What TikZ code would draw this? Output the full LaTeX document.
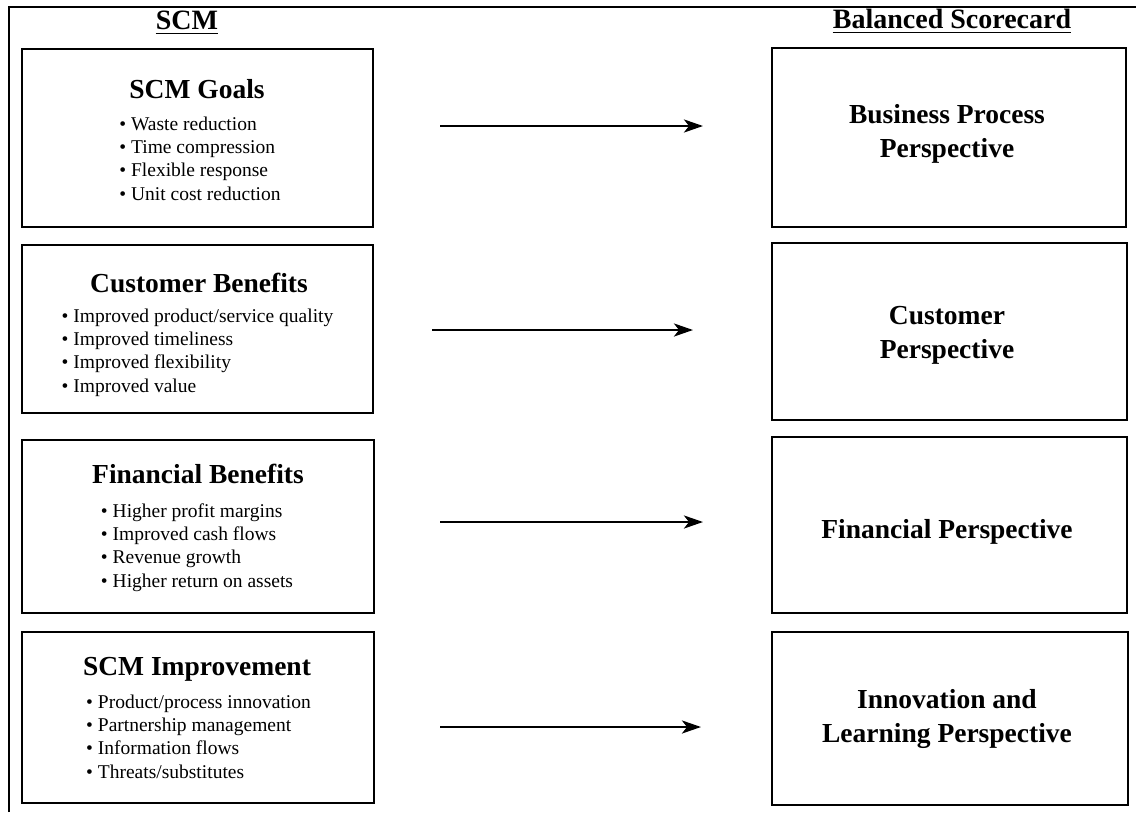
\documentclass[tikz,border=0pt]{standalone}
\usepackage{fontspec}
\setmainfont{Liberation Serif}
\usetikzlibrary{arrows.meta}
\begin{document}
\begin{tikzpicture}[x=1pt,y=-1pt,
  frame/.style={line width=2.2pt},
  box/.style={draw, line width=2.2pt, inner sep=0pt},
  hd/.style={font=\fontsize{28}{30}\selectfont\bfseries, anchor=base, inner sep=0pt},
  ttl/.style={font=\fontsize{27.5}{33}\selectfont\bfseries, anchor=base, inner sep=0pt},
  % multi-line nodes: the base anchor sits on the last line
  lst/.style={font=\fontsize{19.5}{23.3}\selectfont, align=left, anchor=base, inner sep=0pt},
  per/.style={font=\fontsize{27.5}{33.5}\selectfont\bfseries, align=center, anchor=base, inner sep=0pt},
  flow/.style={line width=2.6pt, -{Stealth[length=19pt,width=13pt,inset=5pt]}}
]
\useasboundingbox (0,0) rectangle (1136,812);

% open frame: top and left edges
\draw[frame] (9,812) -- (9,7) -- (1136,7);

% column headings
\node[hd] (hs) at (187,29) {SCM};
\node[hd] (hb) at (952,28) {Balanced Scorecard};
\draw[line width=1.8pt] ([yshift=-4.5pt]hs.base west) -- ([yshift=-4.5pt]hs.base east);
\draw[line width=1.8pt] ([yshift=-4.5pt]hb.base west) -- ([yshift=-4.5pt]hb.base east);

% SCM column
\node[box, minimum width=351pt, minimum height=178pt] (l1) at (197.5,138) {};
\node[box, minimum width=351pt, minimum height=168pt] (l2) at (197.5,329) {};
\node[box, minimum width=352pt, minimum height=173pt] (l3) at (198,526.5) {};
\node[box, minimum width=352pt, minimum height=171pt] (l4) at (198,717.5) {};

\node[ttl] (t1) at (197,98) {SCM Goals};
\node[lst] (i1) at (200,200) {• Waste reduction\\• Time compression\\• Flexible response\\• Unit cost reduction};

\node[ttl] (t2) at (199,292) {Customer Benefits};
\node[lst] (i2) at (197.5,392) {• Improved product/service quality\\• Improved timeliness\\• Improved flexibility\\• Improved value};

\node[ttl] (t3) at (198,483) {Financial Benefits};
\node[lst] (i3) at (197,587) {• Higher profit margins\\• Improved cash flows\\• Revenue growth\\• Higher return on assets};

\node[ttl] (t4) at (197,675) {SCM Improvement};
\node[lst] (i4) at (198.5,778) {• Product/process innovation\\• Partnership management\\• Information flows\\• Threats/substitutes};

% Balanced Scorecard column
\node[box, minimum width=354pt, minimum height=179pt] (r1) at (949,137.5) {};
\node[box, minimum width=355pt, minimum height=177pt] (r2) at (949.5,331.5) {};
\node[box, minimum width=355pt, minimum height=176pt] (r3) at (949.5,525) {};
\node[box, minimum width=356pt, minimum height=173pt] (r4) at (950,718.5) {};

\node[per] (p1) at (947,157) {Business Process\\Perspective};
\node[per] (p2) at (947,358) {Customer\\Perspective};
\node[per] (p3) at (947,538) {Financial Perspective};
\node[per] (p4) at (947,742) {Innovation and\\Learning Perspective};

% links between the columns
\coordinate (a1s) at (440,126); \coordinate (a1e) at (703,126);
\coordinate (a2s) at (432,330); \coordinate (a2e) at (693,330);
\coordinate (a3s) at (440,522); \coordinate (a3e) at (703,522);
\coordinate (a4s) at (440,727); \coordinate (a4e) at (701,727);
\draw[flow] (a1s) -- (a1e);
\draw[flow] (a2s) -- (a2e);
\draw[flow] (a3s) -- (a3e);
\draw[flow] (a4s) -- (a4e);
\end{tikzpicture}
\end{document}
